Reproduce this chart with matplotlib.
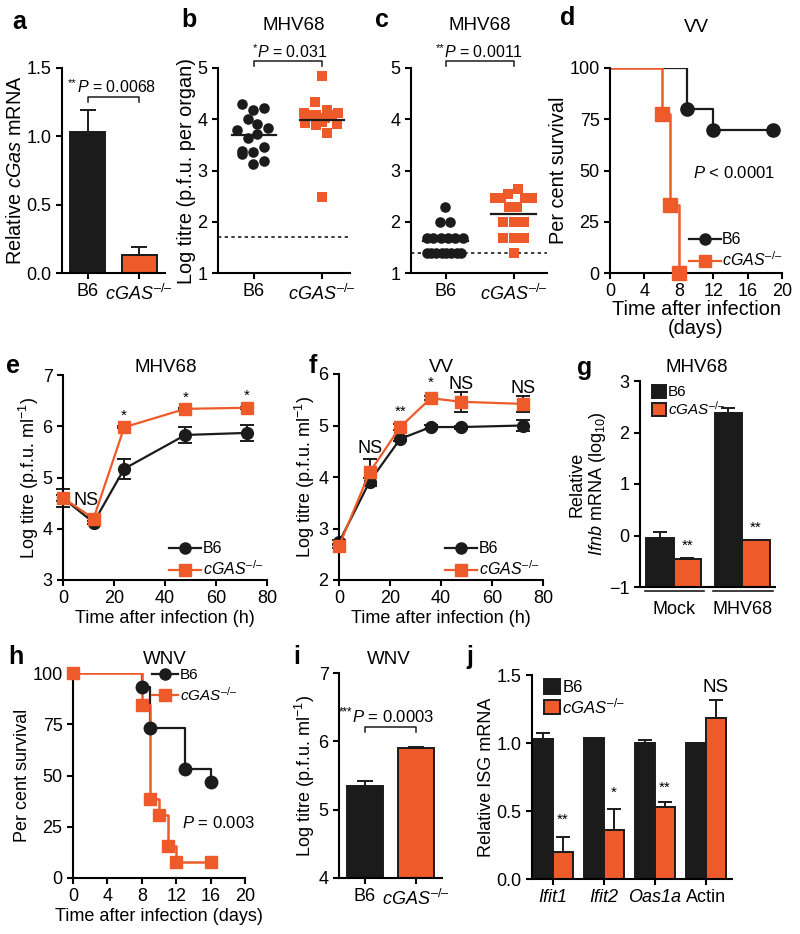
import numpy as np
import matplotlib as mpl
mpl.use('Agg')
import matplotlib.pyplot as plt
from matplotlib.lines import Line2D

plt.rcParams['font.family'] = ['Liberation Sans', 'DejaVu Sans']
plt.rcParams['mathtext.fontset'] = 'custom'
plt.rcParams['mathtext.rm'] = 'Liberation Sans'
plt.rcParams['mathtext.it'] = 'Liberation Sans:italic'
plt.rcParams['mathtext.bf'] = 'Liberation Sans:bold'
plt.rcParams['font.size'] = 13
plt.rcParams['axes.linewidth'] = 1.5
plt.rcParams['axes.labelpad'] = 1.0
plt.rcParams['xtick.major.width'] = 1.5
plt.rcParams['ytick.major.width'] = 1.5
plt.rcParams['xtick.major.size'] = 4
plt.rcParams['ytick.major.size'] = 4

BLACK = '#1c1b1b'
ORANGE = '#ef5a2a'
KO = '$cGAS^{\\mathrm{\u2013/\u2013}}$'

# ---- data ----
groups = ['B6', KO]

# a
a_vals = [1.03, 0.135]
a_err = [0.165, 0.055]

# b  (values + jitter)
b_b6 = [4.30, 4.19, 4.21, 4.00, 3.91, 3.79, 3.82, 3.64, 3.71, 3.38, 3.36, 3.45, 3.32, 3.13, 3.19]
b_b6_dx = [-0.17, -0.01, 0.14, -0.09, 0.05, -0.25, 0.21, -0.09, 0.05, -0.17, -0.01, 0.14, -0.17, -0.01, 0.14]
b_ko = [4.85, 4.34, 4.18, 4.13, 4.08, 4.08, 4.08, 4.12, 4.02, 3.93, 3.89, 3.95, 3.90, 3.74, 2.48]
b_ko_dx = [0.0, -0.10, 0.07, -0.26, -0.18, -0.09, 0.14, 0.24, 0.04, -0.25, -0.09, 0.0, 0.22, 0.07, 0.0]
b_means = [3.70, 3.98]
b_limit = 1.7

# c
c_b6 = [2.28, 1.99, 1.99, 1.68, 1.68, 1.68, 1.68, 1.68, 1.68,
        1.40, 1.40, 1.40, 1.40, 1.40, 1.40, 1.40, 1.40]
c_b6_dx = [-0.01, -0.09, 0.06, -0.28, -0.18, -0.07, 0.03, 0.14, 0.25,
           -0.28, -0.21, -0.14, -0.06, 0.01, 0.08, 0.16, 0.23]
c_ko = [2.64, 2.54, 2.47, 2.47, 2.47, 2.47, 2.29, 2.29, 1.99, 1.99, 1.99, 1.68, 1.68, 1.68, 1.40]
c_ko_dx = [0.07, -0.08, -0.28, -0.18, 0.16, 0.27, -0.07, 0.05, -0.16, 0.0, 0.15, -0.16, 0.0, 0.15, 0.0]
c_means = [1.63, 2.15]
c_limit = 1.4

# d  VV survival
d_b6_t = [0, 9, 12, 19]
d_b6_s = [100, 80, 70, 70]
d_ko_t = [0, 6, 7, 8]
d_ko_s = [100, 77.8, 33.3, 0]

# e  MHV68 growth
e_t = [0, 12, 24, 48, 72]
e_b6 = [4.60, 4.12, 5.17, 5.83, 5.87]
e_b6_err = [0.18, 0.03, 0.19, 0.15, 0.16]
e_ko = [4.60, 4.20, 5.98, 6.34, 6.36]
e_ko_err = [0.05, 0.05, 0.02, 0.02, 0.02]
e_marks = ['NS', '*', '*', '*']
e_marks_t = [9, 24, 48, 72]
e_marks_y = [4.56, 6.2, 6.56, 6.59]

# f  VV growth
f_t = [0, 12, 24, 36, 48, 72]
f_b6 = [2.73, 3.91, 4.74, 4.97, 4.97, 5.00]
f_b6_err = [0.05, 0.08, 0.05, 0.04, 0.03, 0.10]
f_ko = [2.66, 4.09, 4.97, 5.53, 5.46, 5.42]
f_ko_err = [0.03, 0.25, 0.05, 0.04, 0.20, 0.15]
f_marks = ['NS', '**', '*', 'NS', 'NS']
f_marks_t = [12, 24, 36, 48, 72]
f_marks_y = [4.56, 5.27, 5.82, 5.79, 5.71]

# g  Ifnb
g_groups = ['Mock', 'MHV68']
g_b6 = [-0.05, 2.37]
g_b6_err = [0.12, 0.11]
g_ko = [-0.46, -0.09]
g_ko_err = [0.03, 0.01]
g_marks_y = [-0.19, 0.15]

# h  WNV survival
h_b6_t = [0, 8, 9, 13, 16]
h_b6_s = [100, 93.3, 73.3, 53.3, 46.7]
h_ko_t = [0, 8, 9, 10, 11, 12, 16]
h_ko_s = [100, 84.6, 38.5, 30.8, 15.4, 7.7, 7.7]

# i  WNV titre
i_vals = [5.34, 5.90]
i_err = [0.08, 0.01]

# j  ISG mRNA
j_genes = ['Ifit1', 'Ifit2', 'Oas1a', 'Actin']
j_b6 = [1.03, 1.035, 1.003, 1.0]
j_b6_err = [0.04, 0.003, 0.02, 0.003]
j_ko = [0.196, 0.357, 0.526, 1.187]
j_ko_err = [0.115, 0.16, 0.037, 0.13]
j_marks = ['**', '*', '**', 'NS']
j_marks_y = [0.435, 0.636, 0.668, 1.41]

# ---- figure ----
W, H = 800, 934
TOP_LAB = 14.3
fig = plt.figure(figsize=(W / 100, H / 100), dpi=100)


def make_ax(l, t, r, b):
    ax = fig.add_axes([l / W, 1 - b / H, (r - l) / W, (b - t) / H])
    ax.spines['top'].set_visible(False)
    ax.spines['right'].set_visible(False)
    return ax


def fig_text(x, y, s, **kw):
    fig.text(x / W, 1 - y / H, s, **kw)


def letter(x, y, s):
    fig_text(x, y, s, fontsize=18, fontweight='bold', va='center', ha='left')


def title(x, y, s):
    fig_text(x, y, s, fontsize=13.5, va='center', ha='center')


def bracket(ax, y_top, y_leg, stars, pval, y_text, fs=11.5):
    ax.plot([0, 0, 1, 1], [y_leg, y_top, y_top, y_leg], color=BLACK, lw=1.1, clip_on=False)
    t = ax.text(0.56, y_text, '$P$ = ' + pval, ha='center', va='center', fontsize=fs, clip_on=False)
    # significance stars as a small superscript in front of P
    ax.annotate(stars, xy=(0, 0.45), xycoords=t, ha='right', va='bottom',
                fontsize=fs * 0.7, annotation_clip=False)


def bar_pair(ax, vals, errs, width):
    for k, (v, e, c) in enumerate(zip(vals, errs, [BLACK, ORANGE])):
        ax.bar(k, v, width, color=c, edgecolor=BLACK, linewidth=1.4)
        ax.errorbar(k, v, yerr=[[0], [e]], color=BLACK, capsize=6, elinewidth=1.4, capthick=1.4)


def surv_legend(ax, fs=11.5, hl=2.0, **kw):
    hs = [Line2D([], [], color=BLACK, marker='o', ms=8, lw=1.6),
          Line2D([], [], color=ORANGE, marker='s', ms=8, lw=1.6)]
    ax.legend(hs, ['B6', KO], frameon=False, fontsize=fs, handlelength=hl,
              handletextpad=0.1, labelspacing=0.2, borderpad=0, **kw)


def bar_legend(ax, hb, hk, fs, x0):
    ax.legend([hb, hk], ['B6', KO], loc='upper left', frameon=False, fontsize=fs,
              handlelength=0.95, handleheight=0.95, handletextpad=0.12, labelspacing=0.05,
              borderpad=0, bbox_to_anchor=(x0, 1.02))


# a
ax = make_ax(62, 68, 165, 273)
bar_pair(ax, a_vals, a_err, 0.67)
ax.set_xlim(-0.5, 1.5)
ax.set_ylim(0, 1.5)
ax.set_yticks([0, 0.5, 1.0, 1.5])
ax.set_yticklabels(['0.0', '0.5', '1.0', '1.5'])
ax.set_xticks([0, 1])
ax.set_xticklabels(groups)
ax.set_ylabel('Relative $cGas$ mRNA', fontsize=TOP_LAB)
bracket(ax, 1.29, 1.25, '**', '0.0068', 1.36)
letter(12, 22, 'a')

# b, c  dot plots
for l, r, lo, b6, b6dx, ko, kodx, means, lim, stars, pval, let, lx, tx in [
        (218, 350, -0.53, b_b6, b_b6_dx, b_ko, b_ko_dx, b_means, b_limit,
         '*', '0.031', 'b', 181, 294),
        (411, 547, -0.51, c_b6, c_b6_dx, c_ko, c_ko_dx, c_means, c_limit,
         '**', '0.0011', 'c', 375, 480)]:
    ax = make_ax(l, 68, r, 273)
    ax.scatter(np.array(b6dx), b6, s=58, color=BLACK, marker='o', zorder=3, lw=0)
    ax.scatter(1 + np.array(kodx), ko, s=58, color=ORANGE, marker='s', zorder=3, lw=0)
    for k, m in enumerate(means):
        ax.plot([k - 0.33, k + 0.33], [m, m], color=BLACK, lw=1.6, zorder=4)
    ax.axhline(lim, color=BLACK, lw=1.2, ls=(0, (2, 2)))
    ax.set_xlim(lo, lo + (r - l) / 68)
    ax.set_ylim(1, 5)
    ax.set_yticks([1, 2, 3, 4, 5])
    ax.set_xticks([0, 1])
    ax.set_xticklabels(groups)
    if let == 'b':
        ax.set_ylabel('Log titre (p.f.u. per organ)', fontsize=TOP_LAB)
    bracket(ax, 5.14, 5.04, stars, pval, 5.31)
    letter(lx, 20, let)
    title(tx, 25, 'MHV68')

# d
ax = make_ax(610, 68, 782, 273)
ax.plot(d_b6_t, d_b6_s, color=BLACK, lw=1.6, drawstyle='steps-post', zorder=2)
ax.plot(d_b6_t[1:], d_b6_s[1:], 'o', color=BLACK, ms=9.5, zorder=3, clip_on=False)
ax.plot(d_ko_t, d_ko_s, color=ORANGE, lw=1.8, drawstyle='steps-post', zorder=2)
ax.plot(d_ko_t[1:], d_ko_s[1:], 's', color=ORANGE, ms=9.5, zorder=3, clip_on=False)
ax.set_xlim(0, 20)
ax.set_ylim(0, 100)
ax.set_xticks([0, 4, 8, 12, 16, 20])
ax.set_yticks([0, 25, 50, 75, 100])
ax.set_ylabel('Per cent survival', fontsize=TOP_LAB)
ax.set_xlabel('Time after infection\n(days)', labelpad=0, linespacing=1.0, fontsize=TOP_LAB)
ax.text(9.7, 49, '$P$ < 0.0001', fontsize=12, va='center')
surv_legend(ax, loc='lower right', bbox_to_anchor=(1.05, -0.02))
letter(560, 18, 'd')
title(696, 27, 'VV')

# e, f  growth curves
for l, t, r, b, ylim, tt, b6, b6e, ko, koe, mk, mt, my, let, lx, ttl, tx in [
        (63, 375, 267, 580, (3, 7), e_t, e_b6, e_b6_err, e_ko, e_ko_err,
         e_marks, e_marks_t, e_marks_y, 'e', 6, 'MHV68', 166),
        (339, 374, 543, 580, (2, 6), f_t, f_b6, f_b6_err, f_ko, f_ko_err,
         f_marks, f_marks_t, f_marks_y, 'f', 309, 'VV', 441)]:
    ax = make_ax(l, t, r, b)
    ax.errorbar(tt, b6, yerr=b6e, color=BLACK, marker='o', ms=8.5, lw=1.6,
                ecolor=BLACK, elinewidth=1.4, capsize=5, capthick=1.4, zorder=2, clip_on=False)
    ax.errorbar(tt, ko, yerr=koe, color=ORANGE, marker='s', ms=8.5, lw=1.6,
                ecolor=BLACK, elinewidth=1.4, capsize=5, capthick=1.4, zorder=3, clip_on=False)
    for s, x, y in zip(mk, mt, my):
        ax.text(x, y, s, ha='center', va='center', fontsize=13 if s == 'NS' else 11)
    ax.set_xlim(0, 80)
    ax.set_ylim(*ylim)
    ax.set_xticks([0, 20, 40, 60, 80])
    ax.set_yticks(range(ylim[0], ylim[1] + 1))
    ax.set_ylabel('Log titre (p.f.u. ml$^{-1}$)')
    ax.set_xlabel('Time after infection (h)', labelpad=2)
    surv_legend(ax, loc='lower right', bbox_to_anchor=(1.02, -0.03))
    letter(lx, 366, let)
    title(tx, 367, ttl)

# g  (bars rise from the bottom of the axis at -1)
ax = make_ax(640, 381, 775, 587)
xg = np.arange(len(g_groups))
bw = 0.4
base = -1
hb = ax.bar(xg - bw / 2, np.array(g_b6) - base, bw, bottom=base, color=BLACK, edgecolor=BLACK, lw=1.4)
hk = ax.bar(xg + bw / 2, np.array(g_ko) - base, bw, bottom=base, color=ORANGE, edgecolor=BLACK, lw=1.4)
for k in range(len(g_groups)):
    ax.errorbar(xg[k] - bw / 2, g_b6[k], yerr=[[0], [g_b6_err[k]]], color=BLACK,
                capsize=5, elinewidth=1.4, capthick=1.4)
    ax.errorbar(xg[k] + bw / 2, g_ko[k], yerr=[[0], [g_ko_err[k]]], color=BLACK,
                capsize=5, elinewidth=1.4, capthick=1.4)
    ax.text(xg[k] + bw / 2, g_marks_y[k], '**', ha='center', va='center', fontsize=11)
    ax.plot([xg[k] - 0.42, xg[k] + 0.45], [-1.07, -1.07], color=BLACK, lw=1.2, clip_on=False)
ax.set_xlim(-0.49, 1.48)
ax.set_ylim(-1, 3)
ax.set_yticks([-1, 0, 1, 2, 3])
ax.set_yticklabels(['\u22121', '0', '1', '2', '3'])
ax.set_xticks(xg)
ax.set_xticklabels(g_groups)
ax.tick_params(axis='x', length=0, pad=10)
ax.set_ylabel('Relative\n$Ifnb$ mRNA (log$_{10}$)', linespacing=1.1)
bar_legend(ax, hb, hk, 11, 0.03)
letter(577, 368, 'g')
title(697, 367, 'MHV68')

# h
ax = make_ax(73, 673, 245, 878)
ax.plot(h_b6_t, h_b6_s, color=BLACK, lw=1.6, drawstyle='steps-post', zorder=2)
ax.plot(h_b6_t[1:], h_b6_s[1:], 'o', color=BLACK, ms=9, zorder=3)
ax.plot(h_ko_t, h_ko_s, color=ORANGE, lw=1.8, drawstyle='steps-post', zorder=2)
ax.plot(h_ko_t, h_ko_s, 's', color=ORANGE, ms=9, zorder=3, clip_on=False)
ax.set_xlim(0, 20)
ax.set_ylim(0, 100)
ax.set_xticks([0, 4, 8, 12, 16, 20])
ax.set_yticks([0, 25, 50, 75, 100])
ax.set_ylabel('Per cent survival')
ax.set_xlabel('Time after infection (days)', labelpad=2)
ax.text(12.7, 27, '$P$ = 0.003', fontsize=12, va='center')
surv_legend(ax, fs=11, hl=1.7, loc='upper right', bbox_to_anchor=(1.0, 1.06))
letter(8, 657, 'h')
title(165, 659, 'WNV')

# i
ax = make_ax(339, 673, 442, 878)
bar_pair(ax, [v - 4 for v in i_vals], i_err, 0.69)
ax.set_xlim(-0.51, 1.51)
ax.set_ylim(0, 3)
ax.set_yticks([0, 1, 2, 3])
ax.set_yticklabels(['4', '5', '6', '7'])
ax.set_xticks([0, 1])
ax.set_xticklabels(groups)
ax.set_ylabel('Log titre (p.f.u. ml$^{-1}$)')
bracket(ax, 2.21, 2.13, '***', '0.0003', 2.35, fs=12)
letter(293, 657, 'i')
title(389, 659, 'WNV')

# j
ax = make_ax(532, 675, 732, 879)
xj = np.arange(len(j_genes))
bw = 0.39
hb = ax.bar(xj - bw / 2, j_b6, bw, color=BLACK, edgecolor=BLACK, lw=1.4)
hk = ax.bar(xj + bw / 2, j_ko, bw, color=ORANGE, edgecolor=BLACK, lw=1.4)
for k in range(len(j_genes)):
    ax.errorbar(xj[k] - bw / 2, j_b6[k], yerr=[[0], [j_b6_err[k]]], color=BLACK,
                capsize=5, elinewidth=1.4, capthick=1.4)
    ax.errorbar(xj[k] + bw / 2, j_ko[k], yerr=[[0], [j_ko_err[k]]], color=BLACK,
                capsize=5, elinewidth=1.4, capthick=1.4)
    ax.text(xj[k] + bw / 2, j_marks_y[k], j_marks[k], ha='center', va='center',
            fontsize=13.5 if j_marks[k] == 'NS' else 11)
ax.set_xlim(-0.41, 3.51)
ax.set_ylim(0, 1.5)
ax.set_yticks([0, 0.5, 1.0, 1.5])
ax.set_yticklabels(['0.0', '0.5', '1.0', '1.5'])
ax.set_xticks(xj)
ax.set_xticklabels(j_genes)
for lab in ax.get_xticklabels()[:3]:
    lab.set_fontstyle('italic')
ax.set_ylabel('Relative ISG mRNA')
bar_legend(ax, hb, hk, 12, 0.02)
letter(466, 657, 'j')

fig.savefig('out.png', dpi=100)
